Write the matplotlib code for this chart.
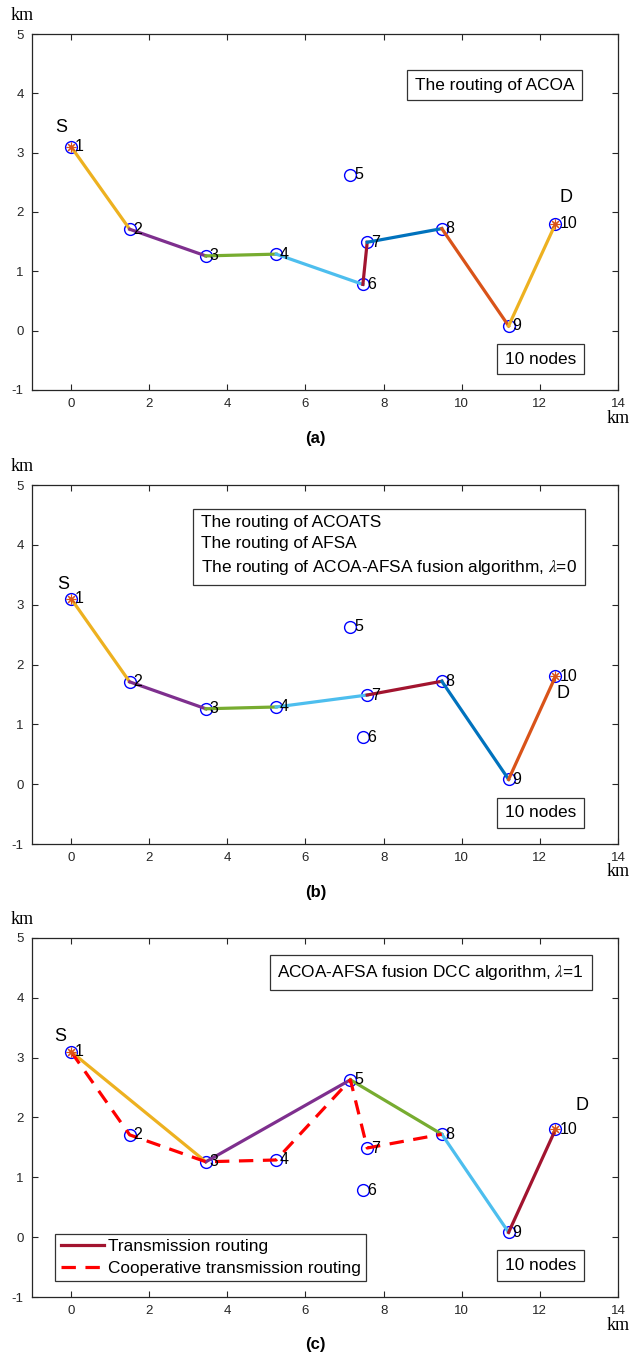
import numpy as np
import matplotlib
matplotlib.use('Agg')
from matplotlib import pyplot as plt

plt.rcParams['font.family'] = ['Liberation Sans', 'DejaVu Sans']
plt.rcParams['mathtext.fontset'] = 'stix'
plt.rcParams['axes.unicode_minus'] = False

# node coordinates (km)
node_x = [0.0, 1.5, 3.45, 5.25, 7.15, 7.47, 7.58, 9.49, 11.2, 12.4]
node_y = [3.1, 1.71, 1.26, 1.29, 2.63, 0.78, 1.49, 1.72, 0.08, 1.80]
node_labels = ['1', '2', '3', '4', '5', '6', '7', '8', '9', '10']

# routes as node numbers
path_a = [1, 2, 3, 4, 6, 7, 8, 9, 10]
path_b = [1, 2, 3, 4, 7, 8, 9, 10]
path_c = [1, 3, 5, 8, 9, 10]
coop_c = [1, 2, 3, 4, 5, 7, 8]

# MATLAB default colour order
mcolors = ['#0072BD', '#D95319', '#EDB120', '#7E2F8E', '#77AC30', '#4DBEEE', '#A2142F']

box_a = "The routing of ACOA"
box_b = "The routing of ACOATS\nThe routing of AFSA\nThe routing of ACOA-AFSA fusion algorithm, $\\lambda$=0"
box_c = "ACOA-AFSA fusion DCC algorithm, $\\lambda$=1"
nodes_txt = "10 nodes"
legend_c = ['Transmission routing', 'Cooperative transmission routing']

W, H = 631, 1357
fig = plt.figure(figsize=(W/100, H/100), dpi=100)

# axes rectangles in pixels: left, top, right, bottom
rects = [(32, 34, 618, 390), (32, 485, 618, 844), (32, 938, 618, 1297)]
panel_names = ['(a)', '(b)', '(c)']

def make_axes(r):
	l, t, rr, b = r
	ax = fig.add_axes([l/W, 1-b/H, (rr-l)/W, (b-t)/H])
	ax.set_xlim(-1, 14)
	ax.set_ylim(-1, 5)
	ax.set_xticks(np.arange(0, 15, 2))
	ax.set_yticks(np.arange(-1, 6, 1))
	ax.tick_params(direction='in', top=True, right=True, length=4.5, width=0.8,
				   labelsize=9.5, colors='#262626', pad=6)
	for s in ax.spines.values():
		s.set_color('#262626')
		s.set_linewidth(0.9)
	return ax

def draw_path(ax, path, start=2):
	for k in range(len(path)-1):
		i, j = path[k]-1, path[k+1]-1
		ax.plot([node_x[i], node_x[j]], [node_y[i], node_y[j]], '-',
				color=mcolors[(start+k) % 7], lw=2.3, zorder=3)

def draw_nodes(ax):
	ax.plot(node_x, node_y, 'o', ls='none', mfc='none', mec='blue', ms=8.5, mew=1.0, zorder=2)
	ax.plot([node_x[0], node_x[-1]], [node_y[0], node_y[-1]], ls='none',
			marker=(8, 2, 0), color='#D95319', ms=7, mew=0.8, zorder=4)
	for i in range(len(node_x)):
		ax.text(node_x[i]+0.1, node_y[i], node_labels[i], fontsize=11.5, ha='left', va='center', zorder=5)

def boxed(ax, x, y, s, ha='center', ls=1.3):
	ax.text(x, y, s, fontsize=12.4, ha=ha, va='center', linespacing=ls, zorder=6,
			bbox=dict(boxstyle='square,pad=0.45', fc='white', ec='#333333', lw=0.9))

axes = [make_axes(r) for r in rects]
for ax, r, nm in zip(axes, rects, panel_names):
	l, t, rr, b = r
	fig.text(22/W, 1-(t-18)/H, 'km', family='Liberation Serif', fontsize=13, ha='center', va='center')
	fig.text(618/W, 1-(b+28)/H, 'km', family='Liberation Serif', fontsize=13, ha='center', va='center')
	fig.text(0.5, 1-(b+48)/H, nm, fontsize=12, fontweight='bold', ha='center', va='center')

# (a)
ax = axes[0]
draw_nodes(ax)
draw_path(ax, path_a)
ax.text(-0.24, 3.42, 'S', fontsize=13, ha='center', va='center')
ax.text(12.68, 2.25, 'D', fontsize=13, ha='center', va='center')
boxed(ax, 10.85, 4.14, box_a)
boxed(ax, 12.02, -0.48, nodes_txt)

# (b)
ax = axes[1]
draw_nodes(ax)
draw_path(ax, path_b)
ax.text(-0.2, 3.33, 'S', fontsize=13, ha='center', va='center')
ax.text(12.6, 1.52, 'D', fontsize=13, ha='center', va='center')
boxed(ax, 3.33, 3.98, box_b, ha='left', ls=1.5)
boxed(ax, 12.02, -0.48, nodes_txt)

# (c)
ax = axes[2]
draw_nodes(ax)
draw_path(ax, path_c)
cx = [node_x[i-1] for i in coop_c]
cy = [node_y[i-1] for i in coop_c]
ax.plot(cx, cy, '--', color='red', lw=2.3, dashes=(4.5, 3), zorder=3)
ax.text(-0.29, 3.36, 'S', fontsize=13, ha='center', va='center')
ax.text(13.09, 2.20, 'D', fontsize=13, ha='center', va='center')
boxed(ax, 9.21, 4.42, box_c)
boxed(ax, 12.02, -0.47, nodes_txt)
h1, = ax.plot([], [], '-', color='#A2142F', lw=2.3)
h2, = ax.plot([], [], '--', color='red', lw=2.3, dashes=(4.5, 3))
leg = ax.legend([h1, h2], legend_c, loc='lower left', bbox_to_anchor=(0.04, 0.045),
				borderaxespad=0, fontsize=12.4, handlelength=2.5, handletextpad=0.25,
				borderpad=0.3, labelspacing=0.4, fancybox=False, framealpha=1)
leg.get_frame().set_edgecolor('#333333')
leg.get_frame().set_linewidth(0.9)

fig.savefig('out.png', dpi=100)
